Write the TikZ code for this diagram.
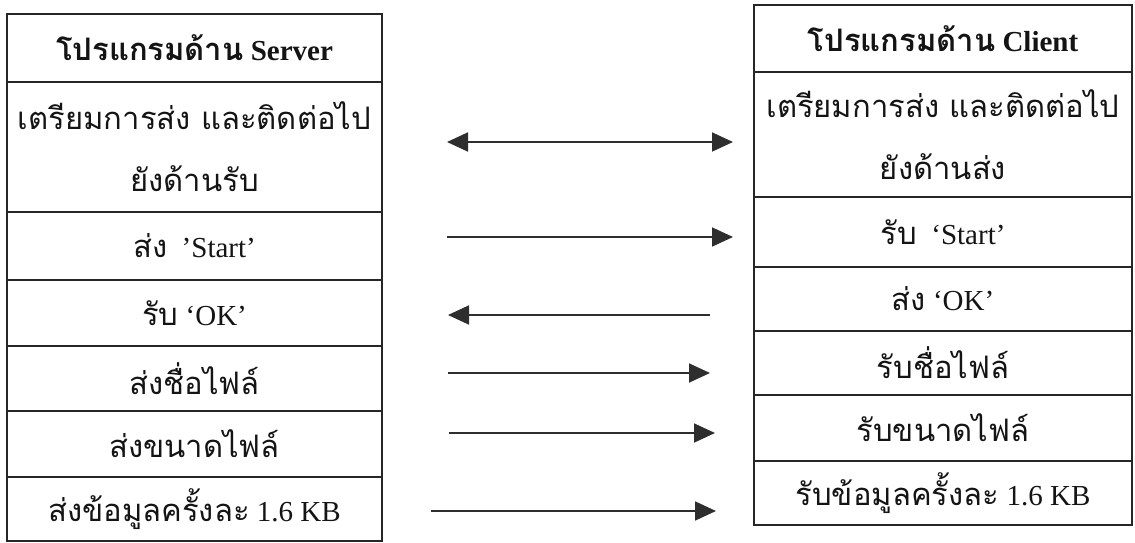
\documentclass[tikz,border=0pt]{standalone}
\usepackage{fontspec}
\setmainfont{Liberation Serif}
\newfontfamily\thai[Script=Thai]{Loma}
\usetikzlibrary{arrows.meta}
\newcommand{\fs}{\fontsize{29}{62}\selectfont}
\newcommand{\thx}[1]{{\thai\fontsize{31}{62}\selectfont #1}}
\begin{document}
\begin{tikzpicture}[x=1pt,y=-1pt,
  cell/.style={draw=black!85, line width=1.3pt, inner sep=0pt, font=\fs, text=black!92, align=center},
  lcell/.style={cell, minimum width=375pt},
  rcell/.style={cell, minimum width=378pt},
  arr/.style={line width=1.8pt, draw=black!82, -{Triangle[length=21pt,width=19pt]}},
  darr/.style={line width=1.8pt, draw=black!82, {Triangle[length=21pt,width=19pt]}-{Triangle[length=21pt,width=19pt]}}]
\useasboundingbox (0,0) rectangle (1135,543);
% Server side
\node[lcell, minimum height=68pt] (sh) at (194.5,48) {\bfseries\thx{\bfseries โปรแกรมด้าน} Server};
\node[lcell, minimum height=130pt] (s1) at (194.5,147) {\thx{เตรียมการส่ง และติดต่อไป}\\\thx{ยังด้านรับ}};
\node[lcell, minimum height=68pt] (s2) at (194.5,246) {\thx{ส่ง}\ \ ’Start’};
\node[lcell, minimum height=66pt] (s3) at (194.5,313) {\thx{รับ} ‘OK’};
\node[lcell, minimum height=65pt] (s4) at (194.5,378.5) {\thx{ส่งชื่อไฟล์}};
\node[lcell, minimum height=66pt] (s5) at (194.5,444) {\thx{ส่งขนาดไฟล์}};
\node[lcell, minimum height=64pt] (s6) at (194.5,509) {\thx{ส่งข้อมูลครั้งละ} 1.6 KB};
% Client side
\node[rcell, minimum height=67pt] (ch) at (943,38.5) {\bfseries\thx{\bfseries โปรแกรมด้าน} Client};
\node[rcell, minimum height=125pt] (c1) at (943,134.5) {\thx{เตรียมการส่ง และติดต่อไป}\\\thx{ยังด้านส่ง}};
\node[rcell, minimum height=70pt] (c2) at (943,232) {\thx{รับ}\ \ ‘Start’};
\node[rcell, minimum height=64pt] (c3) at (943,299) {\thx{ส่ง} ‘OK’};
\node[rcell, minimum height=64pt] (c4) at (943,363) {\thx{รับชื่อไฟล์}};
\node[rcell, minimum height=66pt] (c5) at (943,428) {\thx{รับขนาดไฟล์}};
\node[rcell, minimum height=64pt] (c6) at (943,493) {\thx{รับข้อมูลครั้งละ} 1.6 KB};
% arrow end points
\coordinate (a1s) at (447,142); \coordinate (a1e) at (733,142);
\coordinate (a2s) at (447,237); \coordinate (a2e) at (733,237);
\coordinate (a3s) at (710,315); \coordinate (a3e) at (448,315);
\coordinate (a4s) at (448,373); \coordinate (a4e) at (710,373);
\coordinate (a5s) at (449,433); \coordinate (a5e) at (715,433);
\coordinate (a6s) at (431,511); \coordinate (a6e) at (716,511);
\draw[darr] (a1s) -- (a1e);
\draw[arr] (a2s) -- (a2e);
\draw[arr] (a3s) -- (a3e);
\draw[arr] (a4s) -- (a4e);
\draw[arr] (a5s) -- (a5e);
\draw[arr] (a6s) -- (a6e);
\end{tikzpicture}
\end{document}
